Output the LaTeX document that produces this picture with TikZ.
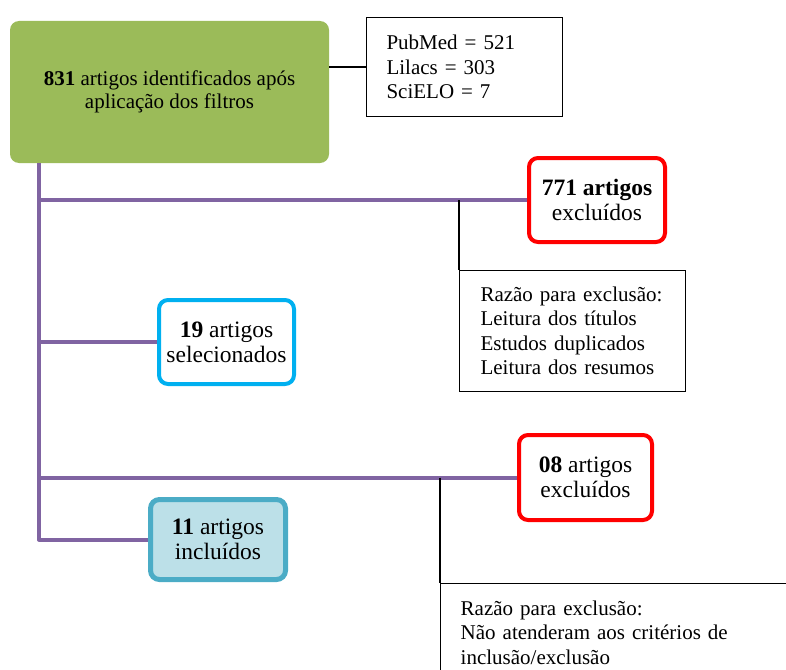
\documentclass[tikz,border=0pt]{standalone}
\usepackage{fontspec}
\setmainfont{Liberation Serif}
\definecolor{boxgreen}{HTML}{9BBB59}
\definecolor{trunkpurple}{HTML}{8064A2}
\definecolor{exred}{HTML}{FF0000}
\definecolor{selblue}{HTML}{00B0F0}
\definecolor{incborder}{HTML}{4BACC6}
\definecolor{incfill}{HTML}{BCE0E8}
\begin{document}
\begin{tikzpicture}[x=1pt,y=-1pt,
  smallfont/.style={font=\fontsize{21}{24.5}\selectfont},
  bigfont/.style={font=\fontsize{23.5}{25}\selectfont},
  rbox/.style={rounded corners=9pt, align=center, inner sep=0pt},
  redbox/.style={rbox, bigfont, draw=exred, line width=4pt, fill=white},
  infobox/.style={smallfont, draw=black, line width=1.4pt, fill=white, align=left, inner ysep=0pt},
  trunk/.style={draw=trunkpurple, line width=4pt, line join=round},
  link/.style={draw=black, line width=1.4pt}
]
\useasboundingbox (0,0) rectangle (786,669);
\clip (0,0) rectangle (786,669);

% nodes
\node[rbox, fill=boxgreen, minimum width=319pt, minimum height=142pt,
      font=\fontsize{21}{23}\selectfont] (green) at (169.5,92)
  {\raisebox{-3pt}{\shortstack{\textbf{831} artigos identificados após\\aplicação dos filtros}}};
\node[infobox, minimum width=196pt, minimum height=99pt, text width=156pt, inner xsep=20pt] (pub) at (464.5,67)
  {PubMed = 521\\Lilacs = 303\\SciELO = 7};
\node[redbox, minimum width=136pt, minimum height=84pt] (ex1) at (597,200)
  {\textbf{771 artigos}\\excluídos};
\node[infobox, minimum width=226pt, minimum height=121pt, text width=184pt, inner xsep=21pt] (r1) at (572.5,331)
  {Razão para exclusão:\\Leitura dos títulos\\Estudos duplicados\\Leitura dos resumos};
\node[rbox, bigfont, draw=selblue, line width=4pt, fill=white, minimum width=135pt, minimum height=84pt] (sel) at (226.5,342)
  {\textbf{19} artigos\\selecionados};
\node[redbox, minimum width=133pt, minimum height=85pt] (ex2) at (585.5,477.5)
  {\textbf{08} artigos\\excluídos};
\node[rbox, bigfont, draw=incborder, line width=5pt, fill=incfill, minimum width=135pt, minimum height=80pt] (inc) at (218,539.5)
  {\textbf{11} artigos\\incluídos};
\node[smallfont, draw=black, line width=1.4pt, anchor=north west, text width=380pt, inner xsep=20pt, inner ysep=17pt,
      align=left] (r2) at (440,583)
  {\parbox[t]{317pt}{\hyphenpenalty=10000\exhyphenpenalty=10000
   Razão para exclusão:\\Não atenderam aos critérios de inclusão/exclusão\par\vspace{40pt}}};

% connectors
\coordinate (tr) at (39,163);
\draw[link] (pub.west) -- (pub.west -| green.east);
\draw[trunk] (tr) -- (tr |- inc.west) -- (inc.west);
\draw[trunk] (tr |- ex1.west) -- (ex1.west);
\draw[trunk] (tr |- sel.west) -- (sel.west);
\draw[trunk] (tr |- ex2.west) -- (ex2.west);
\draw[link] (ex1.west -| r1.north west) -- (r1.north west);
\draw[link] (ex2.west -| r2.north west) -- (r2.north west);
\end{tikzpicture}
\end{document}
